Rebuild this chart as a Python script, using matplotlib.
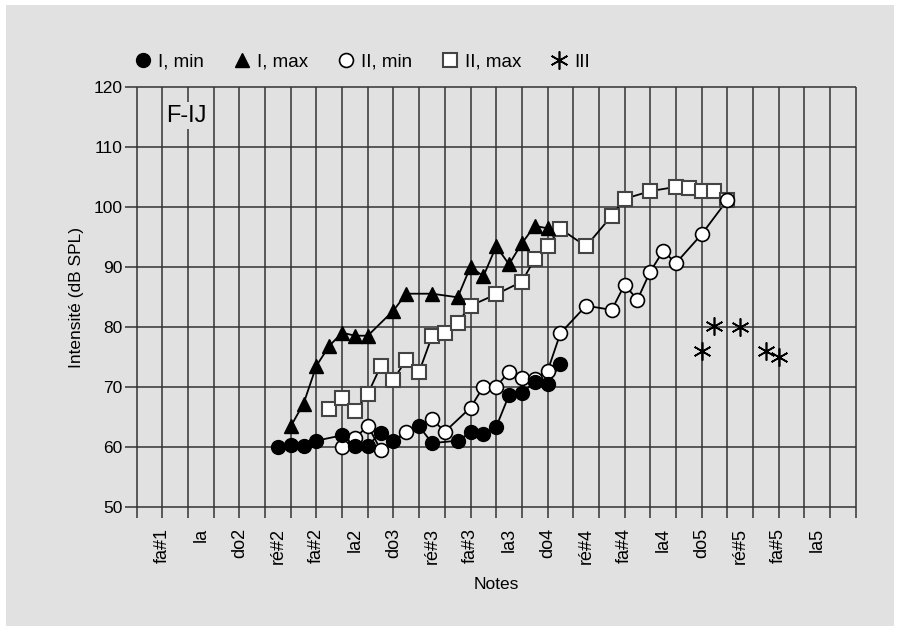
import matplotlib
matplotlib.use("Agg")
import matplotlib.pyplot as plt
from matplotlib.patches import Rectangle
from matplotlib.lines import Line2D

plt.rcParams["font.family"] = ["Liberation Sans", "DejaVu Sans"]

# Note names every minor third, x measured in semitones from fa#1
note_labels = ["fa#1", "la", "do2", "ré#2", "fa#2", "la2", "do3", "ré#3", "fa#3",
               "la3", "do4", "ré#4", "fa#4", "la4", "do5", "ré#5", "fa#5", "la5"]
note_pos = [3 * i for i in range(len(note_labels))]

# Register I, minimum intensity
i_min_x = [9, 10, 11, 12, 14, 15, 16, 17, 18, 20, 21, 23, 24, 25, 26, 27, 28, 29, 30, 31]
i_min_y = [60.0, 60.4, 60.2, 61.1, 62.0, 60.3, 60.3, 62.4, 61.1, 63.5, 60.7, 61.1,
           62.5, 62.2, 63.4, 68.7, 69.0, 70.9, 70.5, 73.9]

# Register I, maximum intensity
i_max_x = [10, 11, 12, 13, 14, 15, 16, 18, 19, 21, 23, 24, 25, 26, 27, 28, 29, 30]
i_max_y = [63.5, 67.3, 73.6, 76.9, 79.1, 78.6, 78.6, 82.8, 85.6, 85.6, 85.0, 90.1,
           88.5, 93.5, 90.5, 94.0, 96.9, 96.5]

# Register II, minimum intensity
ii_min_x = [14, 15, 16, 17, 19, 21, 22, 24, 25, 26, 27, 28, 29, 30, 31, 33, 35, 36,
            37, 38, 39, 40, 42, 44]
ii_min_y = [60.1, 61.5, 63.6, 59.6, 62.6, 64.7, 62.6, 66.6, 70.1, 70.1, 72.6, 71.6,
            71.4, 72.7, 79.0, 83.6, 82.9, 87.1, 84.6, 89.3, 92.7, 90.7, 95.5, 101.2]

# Register II, maximum intensity
ii_max_x = [13, 14, 15, 16, 17, 18, 19, 20, 21, 22, 23, 24, 26, 28, 29, 30, 31, 33,
            35, 36, 38, 40, 41, 42, 43, 44]
ii_max_y = [66.4, 68.2, 66.0, 68.9, 73.5, 71.3, 74.6, 72.6, 78.5, 79.0, 80.8, 83.6,
            85.5, 87.6, 91.4, 93.6, 96.4, 93.5, 98.6, 101.4, 102.7, 103.4, 103.3,
            102.7, 102.7, 101.2]

# Register III
iii_x = [42, 43, 45, 47, 48]
iii_y = [76.0, 80.2, 80.1, 76.1, 75.0]

BG = "#e1e1e1"
GRID = "#333333"

fig = plt.figure(figsize=(9, 6.32), dpi=100)
fig.patches.append(Rectangle((6 / 900, 6 / 632), 888 / 900, 621 / 632,
                             transform=fig.transFigure, facecolor=BG,
                             edgecolor="none", zorder=-10))

ax = fig.add_axes([136.7 / 900, 1 - 507.3 / 632, 719 / 900, 420 / 632])
ax.set_facecolor("none")
xmin, xmax = -2, 54
ymin, ymax = 50, 120
ax.set_xlim(xmin, xmax)
ax.set_ylim(ymin, ymax)

# grid: whole tones vertically, 10 dB horizontally, extended outside as tick marks
ax.vlines(range(xmin, xmax + 1, 2), ymin - 1.75, ymax, colors=GRID,
          linewidth=1.1, clip_on=False, zorder=1)
ax.hlines(range(ymin, ymax + 1, 10), xmin - 0.9, xmax, colors=GRID,
          linewidth=1.1, clip_on=False, zorder=1)
for s in ax.spines.values():
    s.set_visible(False)

ax.set_xticks(note_pos)
ax.set_xticklabels(note_labels, rotation=90, fontsize=13)
ax.tick_params(axis="x", length=0, pad=15)
ax.set_yticks(range(ymin, ymax + 1, 10))
ax.tick_params(axis="y", length=0, pad=10, labelsize=12.5)

ax.set_xlabel("Notes", fontsize=12.5, labelpad=9)
ax.set_ylabel("Intensité (dB SPL)", fontsize=12.5, labelpad=7)

ax.text(0.3, 115.3, "F-IJ", fontsize=17, ha="left", va="center", zorder=2,
        bbox=dict(facecolor=BG, edgecolor="none", pad=1.5))

line_kw = dict(color="black", linewidth=1.3, zorder=3)
ax.plot(i_min_x, i_min_y, **line_kw)
ax.plot(i_max_x, i_max_y, **line_kw)
ax.plot(ii_min_x, ii_min_y, **line_kw)
ax.plot(ii_max_x, ii_max_y, **line_kw)

s_imin = dict(marker="o", ms=10, mfc="black", mec="black", ls="none")
s_imax = dict(marker="^", ms=10.5, mfc="black", mec="black", ls="none")
s_iimin = dict(marker="o", ms=10, mfc="white", mec="black", mew=1.2, ls="none")
s_iimax = dict(marker="s", ms=9.5, mfc="white", mec="#444444", mew=1.5, ls="none")
s_iii = dict(marker=(6, 2, 0), ms=13, mfc="black", mec="black", mew=1.2, ls="none")

ax.plot(ii_max_x, ii_max_y, zorder=4, **s_iimax)
ax.plot(ii_min_x, ii_min_y, zorder=5, **s_iimin)
ax.plot(i_max_x, i_max_y, zorder=6, **s_imax)
ax.plot(i_min_x, i_min_y, zorder=7, **s_imin)
ax.plot(iii_x, iii_y, zorder=7, **s_iii)

handles = [Line2D([], [], **s_imin), Line2D([], [], **s_imax),
           Line2D([], [], **s_iimin), Line2D([], [], **s_iimax),
           Line2D([], [], **s_iii)]
labels = ["I, min", "I, max", "II, min", "II, max", "III"]
fig.legend(handles, labels, loc="center left", bbox_to_anchor=(126 / 900, 1 - 62 / 632),
           ncol=5, frameon=False, fontsize=13.5, handlelength=1.0,
           handletextpad=0.32, columnspacing=1.5, borderaxespad=0)

fig.savefig("out.png", dpi=100, facecolor="white")
